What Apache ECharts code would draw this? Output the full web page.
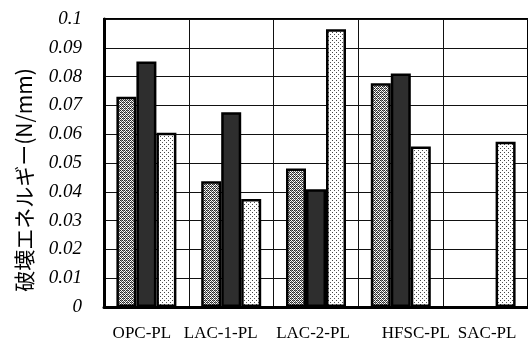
<!DOCTYPE html>
<html><head><meta charset="utf-8">
<script src="https://cdn.jsdelivr.net/npm/echarts@6/dist/echarts.min.js"></script>
<style>html,body{margin:0;padding:0;background:#fff}#c{width:528px;height:344px}</style>
</head><body><div id="c"></div>
<script>
var categories = ['OPC-PL', 'LAC-1-PL', 'LAC-2-PL', 'HFSC-PL', 'SAC-PL'];
var seriesA = [0.073, 0.0437, 0.0481, 0.0777, null];
var seriesB = [0.0852, 0.0676, 0.0409, 0.0811, null];
var seriesC = [0.0605, 0.0375, 0.0964, 0.0557, 0.0574];
var yTicks = { min: 0, max: 0.1, step: 0.01 };
var yTitle = '破壊エネルギー(N/mm)';

function makePattern(w, h, bg, dots) {
  var c = document.createElement('canvas');
  c.width = w; c.height = h;
  var g = c.getContext('2d');
  g.fillStyle = bg; g.fillRect(0, 0, w, h);
  dots.forEach(function (d) { g.fillStyle = d[2]; g.fillRect(d[0], d[1], 1, 1); });
  return c;
}
var hatch = makePattern(4, 4, '#ffffff', [
  [0,0,'#222'],[2,0,'#222'],[1,1,'#555'],[3,1,'#555'],[0,2,'#222'],[2,2,'#222'],[1,3,'#555'],[3,3,'#555'],[1,0,'#888'],[3,2,'#888']
]);
var dotted = makePattern(4, 4, '#ffffff', [[0,0,'#444'],[2,2,'#555']]);

var labelShift = { 'OPC-PL': [0,9,0,0], 'LAC-1-PL': [0,21,0,0], 'LAC-2-PL': [0,6,0,0], 'HFSC-PL': [0,0,0,30], 'SAC-PL': [0,0,0,3] };
var rich = {};
categories.forEach(function (c, i) {
  var p = labelShift[c] || [0,0,0,0];
  rich['c' + i] = { fontFamily: 'Liberation Serif', fontSize: 17, color: '#000', padding: p };
});

var chart = echarts.init(document.getElementById('c'), null, { renderer: 'canvas' });
var border = { borderColor: '#000', borderWidth: 2.5 };
chart.setOption({
  animation: false,
  grid: { left: 104, top: 19, width: 430, bottom: 37, show: true, borderColor: '#000', borderWidth: 2, backgroundColor: 'transparent' },
  xAxis: {
    type: 'category', data: categories,
    axisLine: { lineStyle: { color: '#000', width: 3 } },
    axisTick: { show: false },
    splitLine: { show: true, interval: 0, lineStyle: { color: '#111', width: 1 } },
    axisLabel: {
      interval: 0, margin: 18,
      formatter: function (v) { return '{c' + categories.indexOf(v) + '|' + v + '}'; },
      rich: rich
    }
  },
  yAxis: {
    type: 'value', min: yTicks.min, max: yTicks.max, interval: yTicks.step,
    axisLine: { show: true, lineStyle: { color: '#000', width: 3 } },
    axisTick: { show: false },
    splitLine: { show: true, lineStyle: { color: '#111', width: 1 } },
    axisLabel: {
      margin: 22, color: '#000', fontFamily: 'Liberation Serif', fontStyle: 'italic', fontSize: 19,
      formatter: function (v) { return String(+v.toFixed(2)); }
    }
  },
  graphic: [{
    type: 'text', x: 24, y: 180, rotation: Math.PI / 2,
    style: { text: yTitle, fontFamily: 'Noto Sans CJK JP', fontSize: 21, fill: '#000', align: 'center', verticalAlign: 'middle' }
  }],
  series: [
    { type: 'bar', data: seriesA, barWidth: 20, barGap: '0%', itemStyle: Object.assign({ color: { image: hatch, repeat: 'repeat' } }, border) },
    { type: 'bar', data: seriesB, barWidth: 20, barGap: '0%', itemStyle: Object.assign({ color: '#2e2e2e' }, border) },
    { type: 'bar', data: seriesC, barWidth: 20, barGap: '0%', itemStyle: Object.assign({ color: { image: dotted, repeat: 'repeat' } }, border) }
  ]
});
</script></body></html>
